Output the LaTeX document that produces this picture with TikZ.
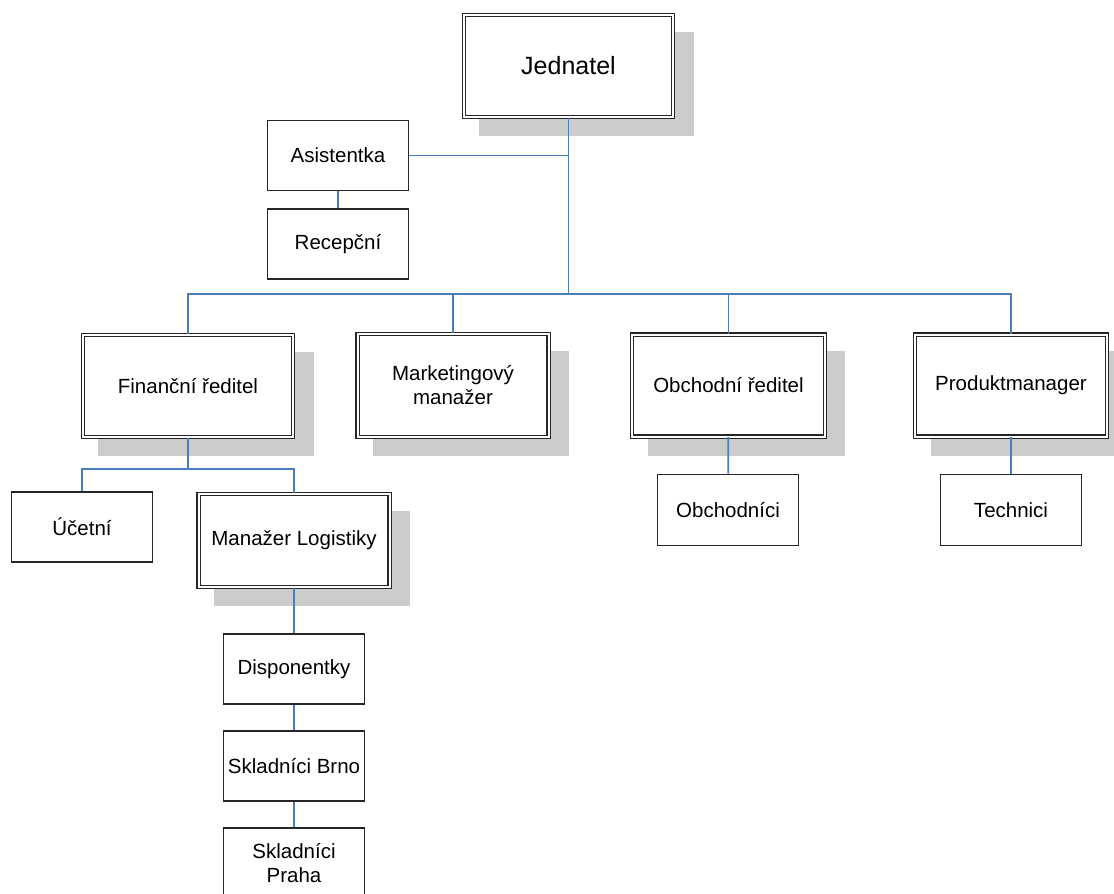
\documentclass[tikz,border=0pt]{standalone}
\usepackage{fontspec}
\setmainfont{Liberation Sans}
\usetikzlibrary{shadows}
\definecolor{linka}{HTML}{4A7EBB}
\definecolor{stin}{HTML}{CCCCCC}
\tikzset{
  box/.style={draw=black!85,line width=1.7pt,fill=white,minimum width=141pt,minimum height=70pt,inner sep=2pt,font=\fontsize{20.5}{24}\selectfont,align=center},
  boss/.style={box,double=white,double distance=2pt,line width=1.4pt,
    drop shadow={shadow xshift=17.5pt,shadow yshift=-17.5pt,shadow scale=1.025,fill=stin,opacity=1}},
  spoj/.style={draw=linka,line width=1.7pt}
}
\begin{document}
\begin{tikzpicture}[x=1pt,y=-1pt,line join=miter]
			\clip(0,0)rectangle(1114,894);
			\fill[white](0,0)rectangle(1114,894);
			% vedeni
			\node[boss,minimum width=209pt,minimum height=102pt,font=\fontsize{25}{30}\selectfont](jed) at (568.5,66){Jednatel};
			\node[boss,minimum width=210pt,minimum height=102pt](fin) at (188,386){Finanční ředitel};
			\node[boss,minimum width=191pt,minimum height=103pt](mkt) at (453,385.5){Marketingový\\manažer};
			\node[boss,minimum width=193pt,minimum height=102pt](obch) at (728.5,385.5){Obchodní ředitel};
			\node[boss,minimum width=192pt,minimum height=102pt](prod) at (1011,385.5){Produktmanager};
			\node[boss,minimum width=191pt,minimum height=93pt](mlog) at (294,540.5){Manažer Logistiky};
			% ostatni
			\node[box](asi) at (338,155.5){Asistentka};
			\node[box](rec) at (338,244){Recepční};
			\node[box](uce) at (82,527){Účetní};
			\node[box](dis) at (294,669){Disponentky};
			\node[box](brn) at (294,766){Skladníci Brno};
			\node[box](pra) at (294,863){Skladníci\\Praha};
			\node[box,minimum height=71pt](obc) at (728,510){Obchodníci};
			\node[box,minimum height=71pt](tec) at (1011,510){Technici};
			% spoje
			\coordinate(busJ) at (jed.south|-0,294);
			\coordinate(busF) at (fin.south|-0,469);
			\path[spoj](jed)--(busJ);
			\path[spoj](asi.east)--(asi.east-|jed.south);
			\path[spoj](fin.north)|-(busJ)-|(prod.north);
			\foreach \i in {mkt,obch}\path[spoj](\i.north)--(\i.north|-busJ);
			\path[spoj](fin)--(busF);
			\path[spoj](uce.north)|-(busF)-|(mlog.north);
			\foreach \a/\b in {asi/rec,mlog/dis,dis/brn,brn/pra,obch/obc,prod/tec}\path[spoj](\a)--(\b);
		\end{tikzpicture}
\end{document}
